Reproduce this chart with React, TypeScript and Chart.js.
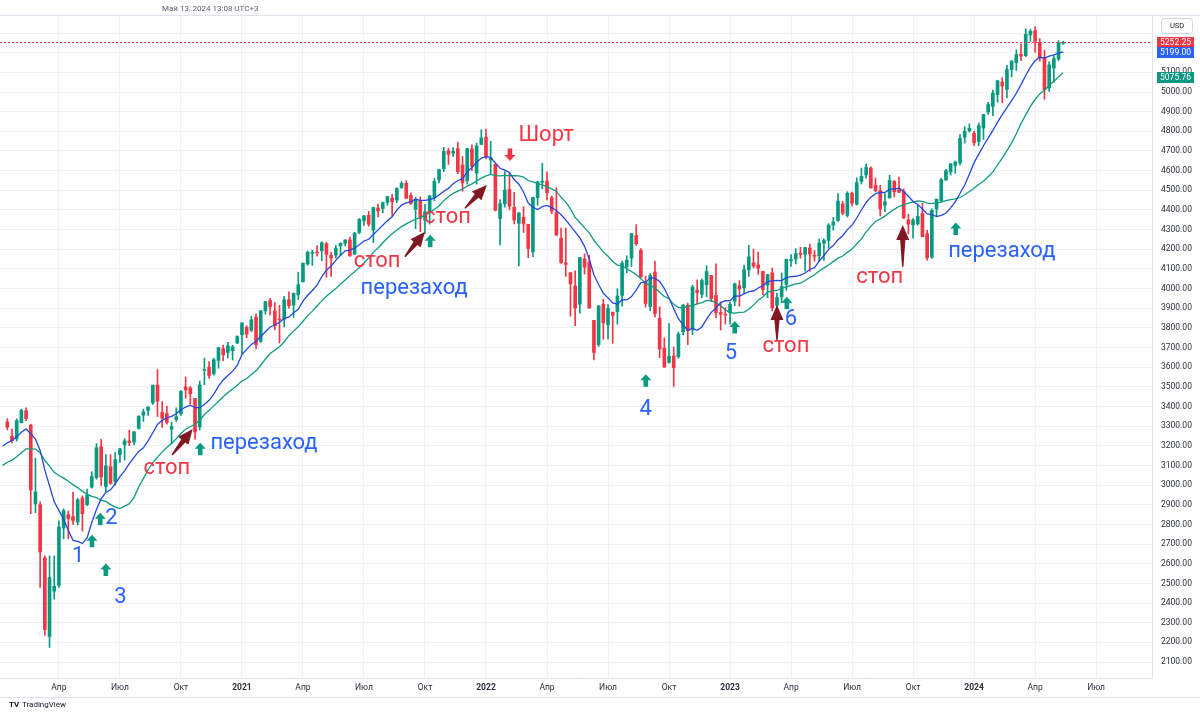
import React, { useEffect, useRef } from 'react';
import { Chart, registerables } from 'chart.js';

Chart.register(...registerables);

// ---------------- data ----------------
// week index 0 = week starting Monday 2020-01-13
const FIRST_WEEK_UTC = Date.UTC(2020, 0, 13);
const monthNames = ['Янв', 'Фев', 'Мар', 'Апр', 'Май', 'Июн', 'Июл', 'Авг', 'Сен', 'Окт', 'Ноя', 'Дек'];

// weekly closes before the visible range (weeks -19 .. 0), used for the moving averages
const histCloses = [2979, 3007, 2992, 2962, 2952, 2970, 2986, 3023, 3067, 3093, 3120, 3110, 3141, 3146, 3169, 3221, 3240, 3235, 3265, 3330];

// [open, high, low, close], weekly, starting week index 1 (2020-01-20)
const candles2020 = [
  [3321, 3338, 3281, 3295], [3249, 3285, 3214, 3226], [3235, 3337, 3224, 3328], [3318, 3386, 3316, 3380],
  [3378, 3393, 3328, 3338], [3305, 3310, 2855, 2975], [2905, 3137, 2860, 2965], [2900, 2915, 2480, 2660],
  [2630, 2640, 2235, 2265], [2230, 2640, 2174, 2530], [2460, 2640, 2420, 2485], [2490, 2818, 2480, 2787],
  [2782, 2880, 2727, 2870], [2850, 2868, 2727, 2830], [2840, 2965, 2800, 2820], [2812, 2933, 2797, 2925],
  [2934, 2945, 2766, 2855], [2900, 2980, 2895, 2950], [2990, 3068, 2985, 3044], [3038, 3211, 3030, 3190],
  [3195, 3233, 2999, 3041], [2993, 3155, 2966, 3098], [3094, 3155, 3004, 3009], [3018, 3166, 3000, 3130],
  [3155, 3186, 3115, 3185], [3205, 3236, 3128, 3225], [3224, 3280, 3201, 3216], [3219, 3272, 3205, 3271],
  [3289, 3352, 3284, 3351], [3356, 3387, 3324, 3373], [3380, 3399, 3354, 3397], [3418, 3509, 3410, 3508],
  [3509, 3588, 3349, 3427], [3370, 3425, 3293, 3341], [3364, 3402, 3310, 3319], [3285, 3320, 3210, 3298],
  [3334, 3393, 3324, 3348], [3364, 3482, 3354, 3477], [3500, 3550, 3442, 3484], [3494, 3502, 3413, 3465],
  [3441, 3441, 3234, 3270], [3296, 3529, 3280, 3509], [3583, 3646, 3511, 3585], [3600, 3628, 3543, 3558],
  [3566, 3645, 3560, 3638], [3634, 3702, 3595, 3699], [3694, 3712, 3633, 3663], [3675, 3726, 3647, 3709],
  [3684, 3711, 3636, 3703], [3723, 3760, 3720, 3756],
];
const candles2021 = [
  [3765, 3826, 3663, 3825], [3803, 3811, 3750, 3768], [3788, 3859, 3780, 3841], [3855, 3871, 3694, 3714],
  [3731, 3888, 3726, 3887], [3886, 3935, 3870, 3934], [3939, 3950, 3866, 3907], [3886, 3929, 3789, 3811],
  [3842, 3915, 3723, 3841], [3844, 3960, 3805, 3943], [3943, 3983, 3900, 3913], [3916, 3978, 3853, 3975],
  [3969, 4083, 3945, 4020], [4034, 4130, 4034, 4129], [4125, 4191, 4118, 4185], [4179, 4195, 4118, 4180],
  [4186, 4219, 4165, 4181], [4192, 4238, 4142, 4233], [4228, 4236, 4057, 4174], [4169, 4186, 4062, 4156],
  [4170, 4219, 4155, 4204], [4217, 4234, 4167, 4230], [4230, 4249, 4217, 4247], [4248, 4262, 4164, 4167],
  [4174, 4286, 4174, 4281], [4285, 4356, 4279, 4352], [4344, 4372, 4321, 4370], [4373, 4393, 4317, 4327],
  [4297, 4415, 4234, 4412], [4410, 4430, 4364, 4395], [4407, 4440, 4385, 4437], [4438, 4469, 4424, 4468],
  [4461, 4480, 4367, 4442], [4450, 4513, 4437, 4509], [4515, 4546, 4509, 4535], [4536, 4549, 4458, 4459],
  [4474, 4487, 4428, 4433], [4403, 4465, 4305, 4455], [4449, 4466, 4289, 4357], [4349, 4429, 4279, 4391],
  [4385, 4475, 4328, 4471], [4463, 4560, 4447, 4545], [4553, 4608, 4537, 4605], [4610, 4718, 4595, 4698],
  [4701, 4714, 4631, 4683], [4689, 4717, 4672, 4698], [4712, 4744, 4585, 4595], [4628, 4672, 4495, 4538],
  [4548, 4713, 4531, 4712], [4710, 4731, 4600, 4621], [4588, 4740, 4531, 4726], [4733, 4808, 4733, 4766],
];
const candles2022 = [
  [4770, 4812, 4660, 4670], [4655, 4749, 4582, 4663], [4632, 4632, 4395, 4398], [4356, 4453, 4222, 4432],
  [4431, 4595, 4414, 4501], [4505, 4590, 4401, 4419], [4413, 4490, 4329, 4349], [4332, 4386, 4115, 4385],
  [4363, 4416, 4285, 4329], [4327, 4327, 4157, 4204], [4188, 4465, 4162, 4463], [4462, 4546, 4424, 4543],
  [4541, 4637, 4507, 4546], [4547, 4594, 4451, 4488], [4462, 4471, 4381, 4393], [4386, 4513, 4270, 4272],
  [4256, 4308, 4128, 4132], [4131, 4308, 4062, 4123], [4081, 4081, 3859, 4024], [4013, 4090, 3811, 3901],
  [3920, 4158, 3875, 4158], [4151, 4177, 4074, 4109], [4135, 4169, 3900, 3901], [3838, 3838, 3637, 3675],
  [3715, 3913, 3705, 3912], [3920, 3946, 3742, 3825], [3815, 3919, 3742, 3899], [3880, 3880, 3722, 3863],
  [3883, 3999, 3819, 3962], [3965, 4140, 3911, 4130], [4112, 4167, 4080, 4145], [4155, 4280, 4112, 4280],
  [4270, 4325, 4219, 4228], [4195, 4204, 4058, 4058], [4034, 4062, 3906, 3924], [3909, 4076, 3887, 4067],
  [4084, 4140, 3856, 3873], [3849, 3907, 3648, 3693], [3697, 3749, 3599, 3601], [3624, 3822, 3620, 3655],
  [3657, 3702, 3502, 3598], [3653, 3779, 3645, 3768], [3780, 3920, 3764, 3916], [3916, 3926, 3714, 3786],
  [3795, 4017, 3765, 4008], [3992, 4044, 3921, 3980], [3971, 4049, 3952, 4041], [4020, 4116, 3958, 4087],
  [4067, 4067, 3934, 3949], [3965, 4126, 3852, 3877], [3878, 3931, 3789, 3870], [3868, 3903, 3820, 3865],
];
const candles2023 = [
  [3878, 3931, 3819, 3920], [3936, 4028, 3913, 4024], [4014, 4040, 3910, 3998], [4004, 4119, 3975, 4096],
  [4095, 4220, 4062, 4161], [4131, 4201, 4105, 4115], [4121, 4185, 4072, 4104], [4088, 4088, 3969, 3995],
  [4017, 4073, 3953, 4071], [4080, 4105, 3886, 3902], [3915, 3977, 3850, 3955], [3958, 4079, 3928, 4011],
  [4022, 4150, 3991, 4149], [4142, 4173, 4113, 4145], [4150, 4203, 4125, 4178], [4180, 4210, 4154, 4174],
  [4174, 4210, 4089, 4209], [4206, 4226, 4088, 4176], [4166, 4194, 4139, 4164], [4166, 4253, 4139, 4232],
  [4230, 4253, 4143, 4245], [4245, 4330, 4206, 4322], [4323, 4362, 4297, 4339], [4346, 4483, 4342, 4445],
  [4431, 4443, 4376, 4383], [4372, 4493, 4364, 4485], [4485, 4491, 4420, 4434], [4429, 4563, 4424, 4540],
  [4545, 4613, 4532, 4571], [4578, 4635, 4561, 4617], [4613, 4619, 4509, 4513], [4526, 4562, 4493, 4499],
  [4499, 4525, 4370, 4405], [4424, 4483, 4391, 4441], [4461, 4577, 4461, 4551], [4546, 4549, 4466, 4492],
  [4504, 4567, 4488, 4490], [4494, 4506, 4356, 4360], [4350, 4378, 4278, 4328], [4324, 4356, 4256, 4349],
  [4329, 4425, 4322, 4367], [4382, 4434, 4263, 4264], [4279, 4296, 4144, 4157], [4160, 4406, 4153, 4398],
  [4405, 4455, 4369, 4455], [4447, 4561, 4442, 4554], [4552, 4607, 4550, 4599], [4594, 4635, 4577, 4635],
  [4626, 4649, 4587, 4644], [4639, 4783, 4629, 4764], [4770, 4824, 4740, 4800], [4803, 4838, 4796, 4815],
];
const candles2024 = [
  [4790, 4800, 4727, 4742], [4748, 4843, 4727, 4829], [4817, 4887, 4759, 4885], [4898, 4948, 4886, 4936],
  [4927, 5010, 4880, 4994], [4987, 5060, 4948, 5057], [5051, 5073, 4946, 5031], [5014, 5136, 4971, 5114],
  [5113, 5160, 5077, 5157], [5150, 5215, 5110, 5190], [5192, 5245, 5160, 5182], [5185, 5322, 5180, 5294],
  [5290, 5320, 5258, 5309], [5312, 5333, 5201, 5259], [5252, 5272, 5157, 5173], [5175, 5213, 4963, 5012],
  [5020, 5154, 5003, 5138], [5122, 5184, 5049, 5170], [5168, 5262, 5160, 5248], [5248, 5258, 5242, 5252.25],
];

const maPeriods = [10, 20];
const lastPrice = 5252.25;
const priceTags = [
  { value: 5252.25, text: '5252.25', bg: '#f23645' },
  { value: 5199.0, text: '5199.00', bg: '#2962ff' },
  { value: 5075.76, text: '5075.76', bg: '#089981' },
];
const dateStamp = 'Май 13, 2024 13:08 UTC+3';

// annotations (week index, price)
const textNotes = [
  { text: '1', week: 16.1, price: 2609, kind: 'blue' },
  { text: '2', week: 23.2, price: 2802, kind: 'blue' },
  { text: '3', week: 25.1, price: 2398, kind: 'blue' },
  { text: 'стоп', week: 35.0, price: 3057, kind: 'red' },
  { text: 'перезаход', week: 55.7, price: 3184, kind: 'blue' },
  { text: 'стоп', week: 79.8, price: 4111, kind: 'red' },
  { text: 'перезаход', week: 87.7, price: 3972, kind: 'blue' },
  { text: 'стоп', week: 94.8, price: 4332, kind: 'red' },
  { text: 'Шорт', week: 115.8, price: 4752, kind: 'red' },
  { text: '4', week: 137.0, price: 3357, kind: 'blue' },
  { text: '5', week: 155.2, price: 3644, kind: 'blue' },
  { text: 'стоп', week: 166.9, price: 3679, kind: 'red' },
  { text: '6', week: 168.0, price: 3815, kind: 'blue' },
  { text: 'стоп', week: 186.9, price: 4027, kind: 'red' },
  { text: 'перезаход', week: 212.9, price: 4159, kind: 'blue' },
];
const entryArrows = [
  [19.05, 2714], [20.8, 2826], [22.0, 2568], [42.1, 3183], [91.1, 4241],
  [137.05, 3531], [156.0, 3802], [167.1, 3925], [203.1, 4303],
];
const shortArrows = [[108.1, 4682]];
const stopArrows = [
  { from: [36.1, 3153], to: [40.5, 3285] },
  { from: [85.7, 4162], to: [90.0, 4289] },
  { from: [98.5, 4408], to: [103.2, 4527] },
  { from: [165.0, 3738], to: [165.0, 3916] },
  { from: [191.8, 4111], to: [191.8, 4323] },
];

// ---------------- styling ----------------
const UP = '#089981';
const DOWN = '#f23645';
const MA_BLUE = '#2348dc';
const MA_GREEN = '#0f9b7f';
const NOTE_BLUE = '#2962ff';
const NOTE_RED = '#f23645';
const STOP_DARK = '#801922';
const GRID = '#eff1f4';
const FONT = 'Roboto, "Noto Sans", sans-serif';

// ---------------- derived ----------------
const candles = [...candles2020, ...candles2021, ...candles2022, ...candles2023, ...candles2024];
const candleColors = candles.map((c) => (c[3] >= c[0] ? UP : DOWN));
const bodyData = candles.map((c, k) => ({ x: k + 1, y: [c[0], c[3]] }));
const wickData = candles.map((c, k) => ({ x: k + 1, y: [c[2], c[1]] }));
const allCloses = [...histCloses, ...candles.map((c) => c[3])];

function sma(n: number) {
  const out: { x: number; y: number }[] = [];
  for (let i = 0; i <= candles.length; i++) {
    const j = i + histCloses.length - 1;
    let s = 0;
    for (let k = j - n + 1; k <= j; k++) s += allCloses[k];
    out.push({ x: i, y: s / n });
  }
  return out;
}

function weekDate(i: number) {
  return new Date(FIRST_WEEK_UTC + i * 7 * 86400000);
}

const X_MIN = -0.5555;
const X_MAX = 244.91;
const xTicks: { value: number; label: string; major: boolean }[] = [];
for (let i = 1; i <= Math.floor(X_MAX); i++) {
  const d = weekDate(i);
  const p = weekDate(i - 1);
  const m = d.getUTCMonth();
  if (m !== p.getUTCMonth() && m % 3 === 0) {
    xTicks.push({ value: i, label: m === 0 ? String(d.getUTCFullYear()) : monthNames[m], major: m === 0 });
  }
}
const xTickMap = new Map(xTicks.map((t) => [t.value, t]));

function drawBlockArrow(ctx: CanvasRenderingContext2D, cx: number, cy: number, dir: number, color: string) {
  const pts = [[0, -6.5], [5.5, -0.5], [2.3, -0.5], [2.3, 6], [-2.3, 6], [-2.3, -0.5], [-5.5, -0.5]];
  ctx.fillStyle = color;
  ctx.beginPath();
  pts.forEach(([px, py], k) => {
    const X = cx + px;
    const Y = cy + py * dir;
    if (k === 0) ctx.moveTo(X, Y);
    else ctx.lineTo(X, Y);
  });
  ctx.closePath();
  ctx.fill();
}

function drawStopArrow(ctx: CanvasRenderingContext2D, x0: number, y0: number, x1: number, y1: number) {
  const dx = x1 - x0;
  const dy = y1 - y0;
  const len = Math.hypot(dx, dy);
  const ux = dx / len;
  const uy = dy / len;
  const nx = -uy;
  const ny = ux;
  const headLen = 15;
  const headHalf = 6.5;
  const shaftHead = 2.6;
  const shaftTail = 0.7;
  const bx = x1 - ux * headLen;
  const by = y1 - uy * headLen;
  ctx.fillStyle = STOP_DARK;
  ctx.beginPath();
  ctx.moveTo(x0 + nx * shaftTail, y0 + ny * shaftTail);
  ctx.lineTo(bx + nx * shaftHead, by + ny * shaftHead);
  ctx.lineTo(bx + nx * headHalf, by + ny * headHalf);
  ctx.lineTo(x1, y1);
  ctx.lineTo(bx - nx * headHalf, by - ny * headHalf);
  ctx.lineTo(bx - nx * shaftHead, by - ny * shaftHead);
  ctx.lineTo(x0 - nx * shaftTail, y0 - ny * shaftTail);
  ctx.closePath();
  ctx.fill();
}

const notesPlugin = {
  id: 'notes',
  afterDatasetsDraw(chart: any) {
    const { ctx, chartArea } = chart;
    const x = chart.scales.x;
    const y = chart.scales.y;
    ctx.save();
    ctx.beginPath();
    ctx.rect(chartArea.left, chartArea.top, chartArea.right - chartArea.left, chartArea.bottom - chartArea.top);
    ctx.clip();
    // last price dotted line
    const yp = Math.round(y.getPixelForValue(lastPrice)) + 0.5;
    ctx.strokeStyle = DOWN;
    ctx.lineWidth = 1;
    ctx.setLineDash([2, 2]);
    ctx.beginPath();
    ctx.moveTo(chartArea.left, yp);
    ctx.lineTo(chartArea.right, yp);
    ctx.stroke();
    ctx.setLineDash([]);
    for (const [w, p] of entryArrows) drawBlockArrow(ctx, x.getPixelForValue(w), y.getPixelForValue(p), 1, UP);
    for (const [w, p] of shortArrows) drawBlockArrow(ctx, x.getPixelForValue(w), y.getPixelForValue(p), -1, DOWN);
    for (const a of stopArrows) {
      drawStopArrow(ctx, x.getPixelForValue(a.from[0]), y.getPixelForValue(a.from[1]), x.getPixelForValue(a.to[0]), y.getPixelForValue(a.to[1]));
    }
    ctx.font = `22px ${FONT}`;
    ctx.textAlign = 'center';
    ctx.textBaseline = 'alphabetic';
    for (const n of textNotes) {
      ctx.fillStyle = n.kind === 'red' ? NOTE_RED : NOTE_BLUE;
      ctx.fillText(n.text, x.getPixelForValue(n.week), y.getPixelForValue(n.price));
    }
    ctx.restore();
  },
  afterDraw(chart: any) {
    const { ctx, chartArea } = chart;
    const y = chart.scales.y;
    const W = chart.width;
    ctx.save();
    // frame lines
    ctx.strokeStyle = '#e0e3eb';
    ctx.lineWidth = 1;
    ctx.beginPath();
    ctx.moveTo(0, chartArea.top - 0.5);
    ctx.lineTo(W, chartArea.top - 0.5);
    ctx.moveTo(0, chartArea.bottom + 19.5);
    ctx.lineTo(W, chartArea.bottom + 19.5);
    ctx.stroke();
    // date stamp
    ctx.fillStyle = '#5d606b';
    ctx.font = `8px ${FONT}`;
    ctx.textAlign = 'left';
    ctx.textBaseline = 'alphabetic';
    ctx.fillText(dateStamp, 162, 11);
    // USD box
    ctx.strokeStyle = '#d1d4dc';
    ctx.beginPath();
    if ((ctx as any).roundRect) (ctx as any).roundRect(1161.5, 18.5, 31, 15, 3);
    else ctx.rect(1161.5, 18.5, 31, 15);
    ctx.stroke();
    ctx.fillStyle = '#131722';
    ctx.font = `7.5px ${FONT}`;
    ctx.textAlign = 'center';
    ctx.textBaseline = 'middle';
    ctx.fillText('USD', 1177, 26.5);
    // price tags
    ctx.font = `8.5px ${FONT}`;
    for (const t of priceTags) {
      const cy = y.getPixelForValue(t.value);
      ctx.fillStyle = t.bg;
      ctx.fillRect(1157, Math.round(cy - 5.5), 37, 11);
      ctx.fillStyle = '#ffffff';
      ctx.fillText(t.text, 1175.5, Math.round(cy - 5.5) + 6);
    }
    // TradingView mark
    ctx.fillStyle = '#131722';
    ctx.font = `bold 8px ${FONT}`;
    ctx.textAlign = 'left';
    ctx.textBaseline = 'alphabetic';
    ctx.fillText('TV', 9, 707);
    ctx.font = `8px ${FONT}`;
    ctx.fillText('TradingView', 22, 707);
    ctx.restore();
  },
};

export default function App() {
  const ref = useRef<HTMLCanvasElement>(null);
  useEffect(() => {
    document.body.style.margin = '0';
    document.body.style.background = '#ffffff';
    const canvas = ref.current;
    if (!canvas) return;
    const chart = new Chart(canvas, {
      type: 'bar',
      data: {
        datasets: [
          {
            type: 'line',
            label: 'SMA 10',
            data: sma(maPeriods[0]),
            borderColor: MA_BLUE,
            borderWidth: 1.3,
            pointRadius: 0,
            tension: 0,
            order: 0,
          } as any,
          {
            type: 'line',
            label: 'SMA 20',
            data: sma(maPeriods[1]),
            borderColor: MA_GREEN,
            borderWidth: 1.3,
            pointRadius: 0,
            tension: 0,
            order: 0,
          } as any,
          {
            type: 'bar',
            label: 'body',
            data: bodyData as any,
            backgroundColor: candleColors,
            barThickness: 3,
            grouped: false,
            minBarLength: 1,
            borderWidth: 0,
            order: 1,
          } as any,
          {
            type: 'bar',
            label: 'wick',
            data: wickData as any,
            backgroundColor: candleColors,
            barThickness: 1,
            grouped: false,
            borderWidth: 0,
            order: 2,
          } as any,
        ],
      },
      options: {
        responsive: false,
        animation: false,
        devicePixelRatio: 1,
        events: [],
        layout: { padding: { top: 16, bottom: 18, left: 0, right: 0 } },
        plugins: { legend: { display: false }, tooltip: { enabled: false } },
        scales: {
          x: {
            type: 'linear',
            min: X_MIN,
            max: X_MAX,
            offset: false,
            grid: { color: GRID, drawTicks: false, offset: false },
            border: { display: true, color: '#e0e3eb' },
            ticks: {
              autoSkip: false,
              maxRotation: 0,
              padding: 5,
              color: '#2a2e39',
              font: (c: any) => ({
                family: FONT,
                size: 8.5,
                weight: xTickMap.get(c.tick?.value)?.major ? 'bold' : 'normal',
              }),
              callback: (v: any) => xTickMap.get(v)?.label ?? null,
            },
            afterBuildTicks: (s: any) => {
              s.ticks = xTicks.map((t) => ({ value: t.value }));
            },
            afterFit: (s: any) => {
              s.height = 20;
            },
          },
          y: {
            type: 'linear',
            position: 'right',
            min: 2018.6,
            max: 5386.7,
            grid: { color: GRID, drawTicks: false },
            border: { display: true, color: '#e0e3eb' },
            ticks: {
              stepSize: 100,
              includeBounds: false,
              autoSkip: false,
              padding: 9,
              color: '#2a2e39',
              font: { family: FONT, size: 8.5 },
              callback: (v: any) => (v > 5150 ? '' : Number(v).toFixed(2)),
            },
            afterFit: (s: any) => {
              s.width = 48;
            },
          },
        },
      } as any,
      plugins: [notesPlugin as any],
    });
    return () => chart.destroy();
  }, []);
  return (
    <div style={{ width: 1200, height: 716, background: '#fff' }}>
      <canvas ref={ref} width={1200} height={716} style={{ display: 'block' }} />
    </div>
  );
}
